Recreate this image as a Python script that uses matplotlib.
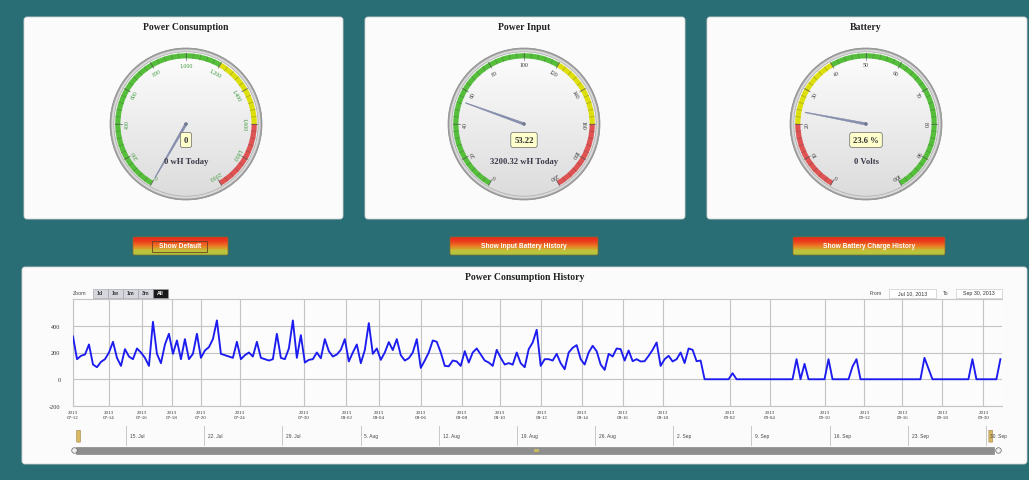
import numpy as np
import matplotlib
matplotlib.use('Agg')
import matplotlib.pyplot as plt
from matplotlib.patches import FancyBboxPatch, Wedge, Circle, Rectangle, Polygon
from matplotlib.colors import LinearSegmentedColormap

plt.rcParams['font.family'] = ['Liberation Serif', 'DejaVu Sans']

W, H = 1029, 481
TEAL = '#286e74'

# ---- gauges ----
gauge_titles = ['Power Consumption', 'Power Input', 'Battery']
gauge_max = [2000, 200, 100]
gauge_step = [200, 20, 10]
gauge_values = [0, 53.22, 23.6]
gauge_value_labels = ['0', '53.22', '23.6 %']
gauge_subtitles = ['0 wH Today', '3200.32 wH Today', '0 Volts']
consumption_bands = [(0, 1200, '#55bf3b'), (1200, 1600, '#dddf0d'), (1600, 2000, '#df5353')]
input_bands = [(0, 120, '#55bf3b'), (120, 160, '#dddf0d'), (160, 200, '#df5353')]
battery_bands = [(0, 20, '#df5353'), (20, 40, '#dddf0d'), (40, 100, '#55bf3b')]
gauge_bands = [consumption_bands, input_bands, battery_bands]
gauge_label_colors = ['#3c9a3c', '#333333', '#333333']

button_labels = ['Show Default', 'Show Input Battery History', 'Show Battery Charge History']

# ---- consumption history (ordinal axis, one value per sample) ----
consumption = [
    320, 150, 175, 185, 260, 110, 90, 130, 150, 200, 280, 160, 100, 225, 170, 150, 230, 200,
    160, 100, 430, 190, 120, 260, 340, 190, 290, 150, 300, 150, 190, 340, 160, 215, 240, 300,
    440, 190, 180, 170, 160, 280, 150, 180, 200, 170, 280, 160, 150, 140, 150, 340, 160, 150,
    230, 440, 160, 330, 125, 145, 150, 200, 157, 300, 210, 170, 185, 220, 300, 133, 200, 260,
    120, 218, 420, 190, 230, 145, 200, 278, 218, 300, 180, 140, 157, 200, 300, 85, 140, 200,
    290, 280, 200, 100, 97, 140, 133, 100, 210, 125, 200, 230, 185, 140, 125, 100, 220, 160,
    110,
    121, 109, 200, 120, 90, 225, 275, 370, 100, 150, 150, 140, 190, 120, 75, 200, 235, 255,
    150, 110, 200, 250, 210, 110, 70, 190, 170, 230, 225, 140, 215, 135, 150, 133, 135, 175,
    220, 275, 100, 150, 175, 133, 150, 200, 121, 230, 220, 135, 140,
    0, 0, 0, 0, 0, 0, 0, 45, 0, 0,
    0, 0, 0, 0, 0, 0, 0, 0, 0, 0,
    0, 0, 0, 150, 0, 115, 0, 0, 0, 0,
    0, 150, 0, 0, 0, 0, 0, 95, 150, 0,
    0, 0, 0, 0, 0, 0, 0, 0, 0, 0,
    0, 0, 0, 0, 0, 160, 80, 0, 0, 0,
    0, 0, 0, 0, 0, 0, 0, 150, 0, 0,
    0, 0, 0, 0, 150,
]
tick_pos = [0, 9, 17.25, 24.75, 32, 41.75, 57.75, 68.4, 76.6, 87, 97.2, 106.75, 117.2,
            127.4, 137.6, 147.6, 164.25, 174.25, 188, 198, 207.5, 217.5, 227.75]
tick_dates = ['07-12', '07-14', '07-16', '07-18', '07-20', '07-24', '07-30', '08-02',
              '08-04', '08-06', '08-08', '08-10', '08-12', '08-14', '08-16', '08-18',
              '09-02', '09-04', '09-10', '09-12', '09-16', '09-18', '09-30']
y_ticks = [-200, 0, 200, 400]

# navigator: days after Jul 10
nav_days = [5, 12, 19, 26, 33, 40, 47, 54, 61, 68, 75, 82]
nav_labels = ['15. Jul', '22. Jul', '29. Jul', '5. Aug', '12. Aug', '19. Aug',
              '26. Aug', '2. Sep', '9. Sep', '16. Sep', '23. Sep', '30. Sep']
range_buttons = ['1d', '1w', '1m', '3m', 'All']

fig = plt.figure(figsize=(W / 100, H / 100), dpi=100)
fig.patch.set_facecolor(TEAL)

bg = fig.add_axes([0, 0, 1, 1])
bg.axis('off')
grad = np.linspace(0, 1, 256).reshape(-1, 1)


def panel(x0, y0, x1, y1):
    bg.add_patch(FancyBboxPatch((x0, y0), x1 - x0, y1 - y0,
                                boxstyle='round,pad=0,rounding_size=3',
                                fc='#fbfbfb', ec='#d4d4d4', lw=0.6, zorder=1))


panel(24, 18, 343, 220)
panel(365, 18, 685, 220)
panel(707, 18, 1027, 220)
panel(22, 268, 1027, 465)

# buttons
btn_cmap = LinearSegmentedColormap.from_list('btn', ['#e8261c', '#ec3e1e', '#ec7a24', '#c4c23a', '#a8c840'])
button_boxes = [(133, 238, 228, 256), (450, 238, 598, 256), (793, 238, 945, 256)]
for (x0, y0, x1, y1), label in zip(button_boxes, button_labels):
    box = FancyBboxPatch((x0, y0), x1 - x0, y1 - y0, boxstyle='round,pad=0,rounding_size=1.5',
                         fc='none', ec='#8a6a2a', lw=0.5, zorder=3)
    bg.add_patch(box)
    im = bg.imshow(grad, extent=(x0, x1, y1, y0), origin='upper', cmap=btn_cmap,
                   aspect='auto', zorder=2)
    im.set_clip_path(box)
    bg.text((x0 + x1) / 2, (y0 + y1) / 2, label, color='white', fontsize=4.8,
            fontweight='bold', ha='center', va='center', family=['Liberation Sans', 'DejaVu Sans'],
            zorder=4)
bg.add_patch(Rectangle((152, 241.5), 55, 11, fc='none', ec='#6b4020', lw=0.6, zorder=4))

# titles
gauge_cx = [186, 524, 866]
for cx, title in zip(gauge_cx, gauge_titles):
    bg.text(cx, 28, title, ha='center', va='center', fontsize=7, fontweight='bold', color='#222')
bg.text(525, 278, 'Power Consumption History', ha='center', va='center', fontsize=7,
        fontweight='bold', color='#222')

# range selector
small = dict(family=['Liberation Sans', 'DejaVu Sans'], fontsize=3.8, va='center')
bg.text(73, 294, 'Zoom', color='#444', **small)
for k, lab in enumerate(range_buttons):
    x0 = 93 + k * 15
    sel = lab == 'All'
    bg.add_patch(Rectangle((x0, 289.5), 14.5, 9, fc='#1a1a1a' if sel else '#d6d6de',
                           ec='#9a9aa4', lw=0.4, zorder=3))
    bg.text(x0 + 7.25, 294, lab, ha='center', color='white' if sel else '#333',
            fontweight='bold', zorder=4, **small)
bg.text(870, 294, 'From', color='#444', **small)
bg.add_patch(Rectangle((889, 289.5), 47, 9.5, fc='white', ec='#cccccc', lw=0.5, zorder=3))
bg.text(912.5, 294, 'Jul 10, 2013', ha='center', color='#333', zorder=4, **small)
bg.text(943, 294, 'To', color='#444', **small)
bg.add_patch(Rectangle((956, 289.5), 46, 9.5, fc='white', ec='#cccccc', lw=0.5, zorder=3))
bg.text(979, 294, 'Sep 30, 2013', ha='center', color='#333', zorder=4, **small)

bg.set_xlim(0, W)
bg.set_ylim(H, 0)

# ---- gauges ----
face_cmap = LinearSegmentedColormap.from_list('face', ['#fdfdfd', '#dcdcdc'])


def angle_of(v, vmax):
    # degrees clockwise from 12 o'clock
    return -150 + 300 * v / vmax


for i, cx in enumerate(gauge_cx):
    r = 86
    ax = fig.add_axes([(cx - r) / W, (H - 125 - r) / H, 2 * r / W, 2 * r / H])
    ax.axis('off')
    vmax = gauge_max[i]
    ax.add_patch(Circle((0, 0), 76, fc='#a0a0a0', ec='#8a8a8a', lw=0.5, zorder=1))
    ax.add_patch(Circle((0, 0), 74.5, fc='#dadada', ec='none', zorder=1.1))
    ax.add_patch(Circle((0, 0), 72.6, fc='#b0b0b0', ec='none', zorder=1.2))
    face = Circle((0, 0), 71.8, fc='none', ec='none', zorder=1.3)
    ax.add_patch(face)
    im = ax.imshow(grad, extent=(-72, 72, -72, 72), origin='upper', cmap=face_cmap,
                   aspect='auto', zorder=1.4)
    im.set_clip_path(face)

    for lo, hi, col in gauge_bands[i]:
        t1 = 90 - angle_of(hi, vmax)
        t2 = 90 - angle_of(lo, vmax)
        ax.add_patch(Wedge((0, 0), 70.8, t1, t2, width=5.2, fc=col, ec='none', zorder=3))

    minor = gauge_step[i] / 5
    for v in np.arange(0, vmax + minor / 2, minor):
        a = np.radians(angle_of(v, vmax))
        ax.plot([65.6 * np.sin(a), 70.8 * np.sin(a)], [65.6 * np.cos(a), 70.8 * np.cos(a)],
                color='#444', lw=0.35, alpha=0.5, zorder=4)
    for v in np.arange(0, vmax + minor / 2, gauge_step[i]):
        a = angle_of(v, vmax)
        ar = np.radians(a)
        ax.plot([64.5 * np.sin(ar), 70.8 * np.sin(ar)], [64.5 * np.cos(ar), 70.8 * np.cos(ar)],
                color='#555', lw=0.6, alpha=0.7, zorder=4)
        ax.text(59 * np.sin(ar), 59 * np.cos(ar), f'{int(round(v)):,}', rotation=-a,
                rotation_mode='anchor', ha='center', va='center', fontsize=4.2,
                color=gauge_label_colors[i], zorder=5)

    # needle
    a = np.radians(angle_of(gauge_values[i], vmax))
    ux, uy = np.sin(a), np.cos(a)
    px, py = -uy, ux
    L = 62
    pts = [(px * 1.2, py * 1.2), (ux * L + px * 0.35, uy * L + py * 0.35),
           (ux * L - px * 0.35, uy * L - py * 0.35), (-px * 1.2, -py * 1.2)]
    ax.add_patch(Polygon(pts, closed=True, fc='#8890b0', ec='#7880a0', lw=0.3, zorder=6))
    ax.add_patch(Circle((0, 0), 1.8, fc='#707890', ec='none', zorder=6.5))

    ax.text(0, -16, gauge_value_labels[i], ha='center', va='center', fontsize=6.2,
            fontweight='bold', color='#333', zorder=7,
            bbox=dict(boxstyle='round,pad=0.4,rounding_size=0.25', fc='#ffffcc', ec='#666666', lw=0.5))
    ax.text(0, -37, gauge_subtitles[i], ha='center', va='center', fontsize=6.2,
            fontweight='bold', color='#3a3a4a', zorder=7)
    ax.set_xlim(-r, r)
    ax.set_ylim(-r, r)

# ---- history chart ----
ax = fig.add_axes([73 / W, (H - 407) / H, 929 / W, 107 / H])
x = np.arange(len(consumption))
ax.plot(x, consumption, color='#1c1cf0', lw=1.35, zorder=3)
ax.set_xlim(0, 232.4)
ax.set_ylim(-200, 600)
ax.set_yticks(y_ticks)
ax.set_yticklabels([str(v) for v in y_ticks])
ax.set_xticks(tick_pos)
ax.set_xticklabels(['2013\n' + d for d in tick_dates], linespacing=1.2)
ax.grid(True, color='#c4c4c4', lw=0.8)
ax.set_facecolor('#fcfcfc')
ax.tick_params(axis='y', length=0, labelsize=4.5, pad=9, labelcolor='#333')
ax.tick_params(axis='x', length=0, labelsize=3.6, pad=3, labelcolor='#333')
for s in ax.spines.values():
    s.set_color('#c4c4c4')
    s.set_linewidth(0.8)
ax.spines['right'].set_visible(False)

# ---- navigator ----
nav = fig.add_axes([73 / W, (H - 458) / H, 927 / W, 31 / H])
nav.set_xlim(0.255, 83.25)
nav.set_ylim(0, 1)
nav.axis('off')
for d, lab in zip(nav_days, nav_labels):
    nav.plot([d, d], [0.38, 1], color='#c0c0c0', lw=0.6)
    nav.text(d + 0.35, 0.69, lab, fontsize=3.5, ha='left', va='center', color='#444',
             family=['Liberation Sans', 'DejaVu Sans'])
nav.add_patch(Rectangle((0.003, 0.1), 0.99, 0.22, transform=nav.transAxes,
                        fc='#8e8e8e', ec='#7a7a7a', lw=0.4))
nav.add_patch(Rectangle((0.497, 0.15), 0.006, 0.12, transform=nav.transAxes,
                        fc='#c8b860', ec='none'))
nav.plot([0.35, 83.1], [0.21, 0.21], ls='none', marker='o', ms=4, mfc='#eeeeee',
         mec='#666666', mew=0.5, clip_on=False)
for xa in (0.004, 0.988):
    nav.add_patch(FancyBboxPatch((xa, 0.48), 0.004, 0.38, transform=nav.transAxes,
                                 boxstyle='round,pad=0,rounding_size=0.002',
                                 fc='#d8b860', ec='#a08040', lw=0.4))

fig.savefig('out.png', dpi=100, facecolor=fig.get_facecolor())
